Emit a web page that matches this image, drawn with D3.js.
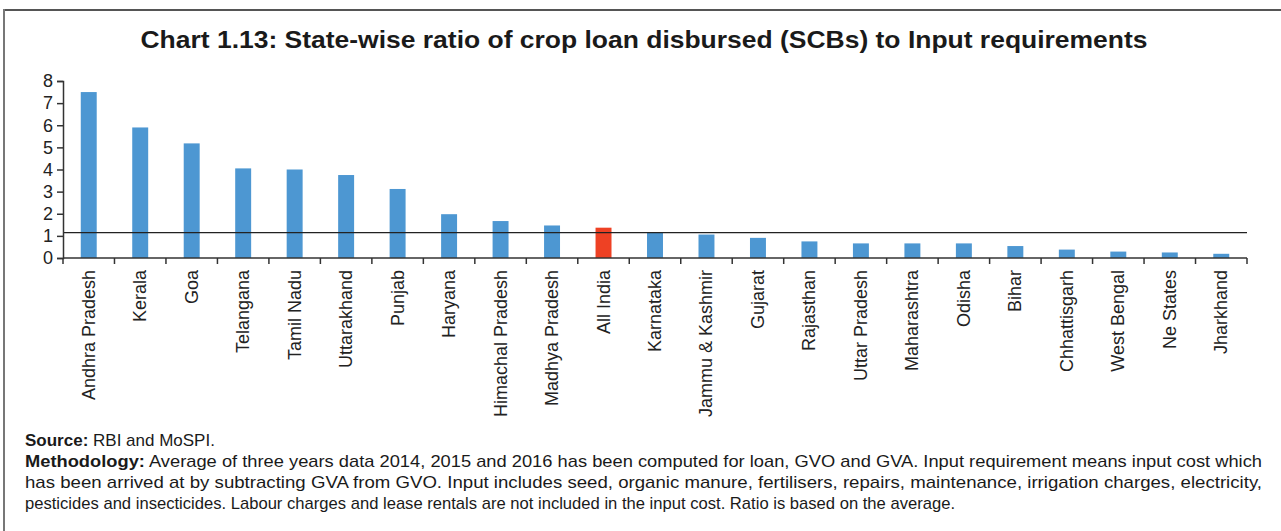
<!DOCTYPE html>
<html>
<head>
<meta charset="utf-8">
<script src="https://cdn.jsdelivr.net/npm/d3@7/dist/d3.min.js"></script>
<style>
  html, body { margin: 0; padding: 0; background: #fff; }
  svg { display: block; font-family: "Liberation Sans", Arial, Helvetica, sans-serif; }
</style>
</head>
<body>
<svg id="chart" width="1281" height="531"></svg>
<script>
const categories = ["Andhra Pradesh", "Kerala", "Goa", "Telangana", "Tamil Nadu", "Uttarakhand", "Punjab",
  "Haryana", "Himachal Pradesh", "Madhya Pradesh", "All India", "Karnataka", "Jammu & Kashmir", "Gujarat",
  "Rajasthan", "Uttar Pradesh", "Maharashtra", "Odisha", "Bihar", "Chhattisgarh", "West Bengal", "Ne States", "Jharkhand"];
const ratios = [7.50, 5.90, 5.18, 4.05, 4.00, 3.75, 3.12, 1.98, 1.67, 1.47, 1.37, 1.14, 1.06, 0.91,
  0.75, 0.66, 0.66, 0.66, 0.54, 0.38, 0.29, 0.25, 0.19];
const highlight = ["All India"];
const referenceValue = [1.15];
const yTicks = [0, 1, 2, 3, 4, 5, 6, 7, 8];
const title = "Chart 1.13: State-wise ratio of crop loan disbursed (SCBs) to Input requirements";
const footer = [
  { bold: "Source:", text: " RBI and MoSPI.", width: 0 },
  { bold: "Methodology:", text: " Average of three years data 2014, 2015 and 2016 has been computed for loan, GVO and GVA. Input requirement means input cost which", width: 1237 },
  { bold: "", text: "has been arrived at by subtracting GVA from GVO. Input includes seed, organic manure, fertilisers, repairs, maintenance, irrigation charges, electricity,", width: 1237 },
  { bold: "", text: "pesticides and insecticides. Labour charges and lease rentals are not included in the input cost. Ratio is based on the average.", width: 930 }
];

(function () {
const svg = d3.select("#chart");
const mLeft = 63, mRight = 1247, mTop = 81, mBottom = 258;

// frame
svg.append("line").attr("x1", 4).attr("x2", 1281).attr("y1", 10).attr("y2", 10)
  .attr("stroke", "#555").attr("stroke-width", 2);
svg.append("line").attr("x1", 4).attr("x2", 4).attr("y1", 9).attr("y2", 531)
  .attr("stroke", "#777").attr("stroke-width", 2);

// title
svg.append("text").attr("x", 644).attr("y", 48).attr("text-anchor", "middle")
  .attr("font-size", 24).attr("font-weight", "bold").attr("fill", "#1a1a1a")
  .attr("textLength", 1007).attr("lengthAdjust", "spacingAndGlyphs")
  .text(title);

const x = d3.scaleBand().domain(categories).range([mLeft, mRight]).paddingInner(0.69).paddingOuter(0.345);
const xEdge = d3.scaleBand().domain(categories).range([mLeft, mRight]).padding(0);
const y = d3.scaleLinear().domain([0, 8]).range([mBottom, mTop]);

// bars
svg.append("g").selectAll("rect").data(categories).join("rect")
  .attr("x", d => x(d))
  .attr("width", x.bandwidth())
  .attr("y", (d, i) => y(ratios[i]))
  .attr("height", (d, i) => y(0) - y(ratios[i]))
  .attr("fill", d => highlight.includes(d) ? "#ee4124" : "#4d97d2");

// reference line
svg.append("g").selectAll("line").data(referenceValue).join("line")
  .attr("x1", mLeft).attr("x2", mRight)
  .attr("y1", d => y(d)).attr("y2", d => y(d))
  .attr("stroke", "#222").attr("stroke-width", 1.3);

// y axis
const yAxis = svg.append("g").attr("transform", `translate(${mLeft},0)`)
  .call(d3.axisLeft(y).tickValues(yTicks).tickSize(6).tickPadding(4).tickFormat(d3.format("d")));
yAxis.select(".domain").attr("stroke", "#333").attr("stroke-width", 1.5);
yAxis.selectAll(".tick line").attr("stroke", "#333").attr("stroke-width", 1.5);
yAxis.selectAll(".tick text").attr("font-size", 18).attr("fill", "#222")
  .attr("font-family", "Liberation Sans, Arial, sans-serif");

// x axis line and boundary ticks
const xAxis = svg.append("g").attr("transform", `translate(0,${mBottom})`);
xAxis.append("line").attr("x1", mLeft).attr("x2", mRight).attr("y1", 0).attr("y2", 0)
  .attr("stroke", "#333").attr("stroke-width", 1.5);
const edges = categories.map(d => xEdge(d)).concat([xEdge(categories[categories.length - 1]) + xEdge.bandwidth()]);
xAxis.selectAll("line.tk").data(edges).join("line").attr("class", "tk")
  .attr("x1", d => d).attr("x2", d => d).attr("y1", 0).attr("y2", 6)
  .attr("stroke", "#333").attr("stroke-width", 1.5);
xAxis.selectAll("text").data(categories).join("text")
  .attr("transform", d => `translate(${x(d) + x.bandwidth() / 2},12) rotate(-90)`)
  .attr("text-anchor", "end").attr("dominant-baseline", "central")
  .attr("font-size", 18).attr("fill", "#222")
  .text(d => d);

// footer
const fy = [446, 467, 488, 509];
footer.forEach((ln, i) => {
  const t = svg.append("text").attr("x", 25).attr("y", fy[i]).attr("font-size", 17).attr("fill", "#1a1a1a");
  if (ln.bold) t.append("tspan").attr("font-weight", "bold").text(ln.bold);
  t.append("tspan").text(ln.text);
  if (ln.width) t.attr("textLength", ln.width).attr("lengthAdjust", "spacingAndGlyphs");
});
})();
</script>
</body>
</html>
